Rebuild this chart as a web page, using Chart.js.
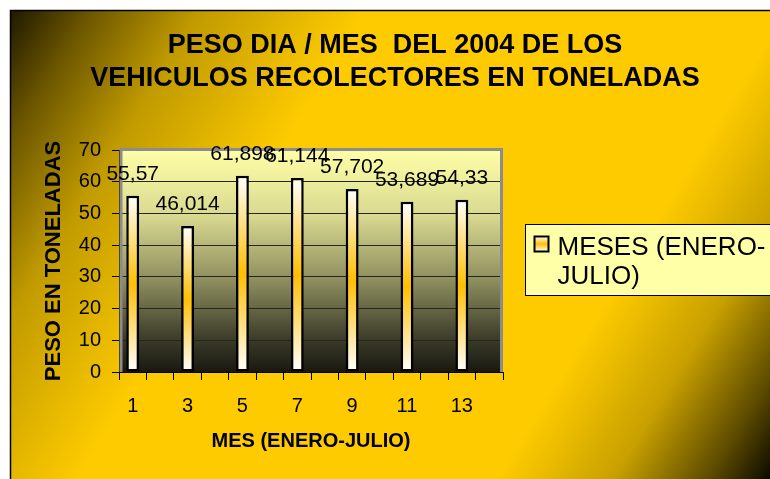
<!DOCTYPE html>
<html>
<head>
<meta charset="utf-8">
<title>Peso dia / mes 2004</title>
<script src="https://cdn.jsdelivr.net/npm/chart.js@4.4.1/dist/chart.umd.min.js"></script>
<style>
  html, body { margin: 0; padding: 0; background: #fff; }
  #wrap { position: relative; width: 770px; height: 479px; }
</style>
</head>
<body>
<div id="wrap"><canvas id="grafico"></canvas></div>
<script>
// --- datos ---
const meses = ['1', '2', '3', '4', '5', '6', '7', '8', '9', '10', '11', '12', '13', '14'];
const toneladas = [55.57, null, 46.014, null, 61.898, null, 61.144, null, 57.702, null, 53.689, null, 54.33, null];
const ejeYMin = 0;
const ejeYMax = 70;
const ejeYPaso = 10;

const titulo = ['PESO DIA / MES  DEL 2004 DE LOS', 'VEHICULOS RECOLECTORES EN TONELADAS'];
const tituloEjeY = 'PESO EN TONELADAS';
const tituloEjeX = 'MES (ENERO-JULIO)';
const leyenda = ['MESES (ENERO-', 'JULIO)'];

const FUENTE = '"Liberation Sans", Arial, sans-serif';
Chart.defaults.font.family = FUENTE;
Chart.defaults.color = '#000';

// degradado blanco -> naranja -> blanco (barras y marcador de la leyenda)
const degradadoBarra = (ctx, top, bottom) => {
    const g = ctx.createLinearGradient(0, top, 0, bottom);
    g.addColorStop(0, '#ffffff');
    g.addColorStop(0.5, '#ffbe00');
    g.addColorStop(1, '#ffffff');
    return g;
};

// fondo dorado, area del grafico y titulo
const fondoPlugin = {
    id: 'fondo',
    beforeDraw(chart) {
        const { ctx, width, height, chartArea: a } = chart;
        ctx.save();
        ctx.fillStyle = '#ffffff';
        ctx.fillRect(0, 0, width, height);

        const g = ctx.createLinearGradient(10, 10, width, height);
        g.addColorStop(0, '#1e1800');
        g.addColorStop(0.08, '#6e5800');
        g.addColorStop(0.18, '#c09a00');
        g.addColorStop(0.34, '#fecb00');
        g.addColorStop(0.74, '#fecb00');
        g.addColorStop(0.85, '#c8a000');
        g.addColorStop(0.94, '#5e4c00');
        g.addColorStop(1, '#0c0a00');
        ctx.fillStyle = g;
        ctx.fillRect(10, 10, width - 10, height - 10);

        ctx.strokeStyle = '#000';
        ctx.lineWidth = 1.5;
        ctx.beginPath();
        ctx.moveTo(10.5, height);
        ctx.lineTo(10.5, 10.5);
        ctx.lineTo(width, 10.5);
        ctx.stroke();

        // fondo del area de trazado
        const p = ctx.createLinearGradient(0, a.top, 0, a.bottom);
        p.addColorStop(0, '#ffffa8');
        p.addColorStop(0.3, '#d8d890');
        p.addColorStop(0.6, '#8a8a5c');
        p.addColorStop(0.85, '#3c3c2a');
        p.addColorStop(1, '#181810');
        ctx.fillStyle = p;
        ctx.fillRect(a.left, a.top, a.width, a.height);

        // titulo
        ctx.fillStyle = '#000';
        ctx.font = 'bold 27px ' + FUENTE;
        ctx.textAlign = 'center';
        ctx.textBaseline = 'middle';
        ctx.fillText(titulo[0], 395, 46);
        ctx.fillText(titulo[1], 395, 79);
        ctx.restore();
    },
    beforeDatasetsDraw(chart) {
        // borde gris del area de trazado
        const { ctx, chartArea: a } = chart;
        ctx.save();
        ctx.strokeStyle = '#8c8c8c';
        ctx.lineWidth = 3;
        ctx.beginPath();
        ctx.moveTo(a.left + 2, a.bottom);
        ctx.lineTo(a.left + 2, a.top - 0.5);
        ctx.lineTo(a.right - 1.5, a.top - 0.5);
        ctx.lineTo(a.right - 1.5, a.bottom);
        ctx.stroke();
        ctx.restore();
    }
};

// etiquetas de valor sobre cada barra (coma decimal)
const etiquetasPlugin = {
    id: 'etiquetas',
    afterDatasetsDraw(chart) {
        const { ctx } = chart;
        const meta = chart.getDatasetMeta(0);
        ctx.save();
        ctx.font = '21px ' + FUENTE;
        ctx.fillStyle = '#000';
        ctx.textAlign = 'center';
        ctx.textBaseline = 'alphabetic';
        meta.data.forEach((bar, i) => {
            const v = toneladas[i];
            if (v == null) return;
            ctx.fillText(String(v).replace('.', ','), bar.x, bar.y - 16);
        });
        ctx.restore();
    }
};

// leyenda a la derecha, cortada por el borde como en el original
const leyendaPlugin = {
    id: 'leyendaMeses',
    afterDraw(chart) {
        const { ctx, width, chartArea: a } = chart;
        const x0 = a.right + 22.5;
        const y0 = Math.round((a.top + a.bottom) / 2 - 37) + 0.5;
        ctx.save();
        ctx.fillStyle = '#ffffa8';
        ctx.fillRect(x0, y0, width - x0 + 5, 71);
        ctx.strokeStyle = '#000';
        ctx.lineWidth = 1;
        ctx.strokeRect(x0, y0, width - x0 + 5, 71);

        ctx.fillStyle = degradadoBarra(ctx, y0 + 12, y0 + 27);
        ctx.fillRect(x0 + 9, y0 + 12, 14, 15);
        ctx.lineWidth = 2;
        ctx.strokeRect(x0 + 9, y0 + 12, 14, 15);

        ctx.fillStyle = '#000';
        ctx.font = '26px ' + FUENTE;
        ctx.textAlign = 'left';
        ctx.textBaseline = 'alphabetic';
        ctx.fillText(leyenda[0], x0 + 32, y0 + 30);
        ctx.fillText(leyenda[1], x0 + 32, y0 + 59);
        ctx.restore();
    }
};

new Chart(document.getElementById('grafico'), {
    type: 'bar',
    data: {
        labels: meses,
        datasets: [{
            label: leyenda.join(''),
            data: toneladas,
            backgroundColor: (c) => {
                const chart = c.chart;
                if (!chart.chartArea || c.raw == null) return '#ffbe00';
                const y = chart.scales.y;
                return degradadoBarra(chart.ctx, y.getPixelForValue(c.raw), y.getPixelForValue(0));
            },
            borderColor: '#000',
            borderWidth: 2.5,
            borderSkipped: false,
            barPercentage: 0.47,
            categoryPercentage: 1
        }]
    },
    options: {
        responsive: true,
        maintainAspectRatio: false,
        animation: false,
        layout: { padding: { left: 41, right: 267, top: 150, bottom: 20 } },
        plugins: {
            legend: { display: false },
            title: { display: false },
            tooltip: { enabled: false }
        },
        scales: {
            x: {
                afterFit: (s) => { s.height = 87; },
                grid: {
                    drawOnChartArea: false,
                    offset: true,
                    tickLength: 8,
                    color: '#000'
                },
                border: { display: true, color: '#000', width: 1 },
                ticks: {
                    autoSkip: false,
                    maxRotation: 0,
                    padding: 14,
                    font: { size: 20 },
                    callback: (v, i) => (i % 2 === 0 ? meses[i] : '')
                },
                title: {
                    display: true,
                    text: tituloEjeX,
                    font: { size: 20, weight: 'bold' },
                    padding: { top: 0, bottom: 6 }
                }
            },
            y: {
                min: ejeYMin,
                max: ejeYMax,
                afterFit: (s) => { s.width = 78; },
                grid: {
                    color: '#26261c',
                    tickColor: '#000',
                    tickLength: 7
                },
                border: { display: true, color: '#000', width: 1 },
                ticks: {
                    stepSize: ejeYPaso,
                    padding: 11,
                    font: { size: 20 }
                },
                title: {
                    display: true,
                    text: tituloEjeY,
                    font: { size: 22, weight: 'bold' },
                    padding: { top: 0, bottom: 0 }
                }
            }
        }
    },
    plugins: [fondoPlugin, etiquetasPlugin, leyendaPlugin]
});
</script>
</body>
</html>
